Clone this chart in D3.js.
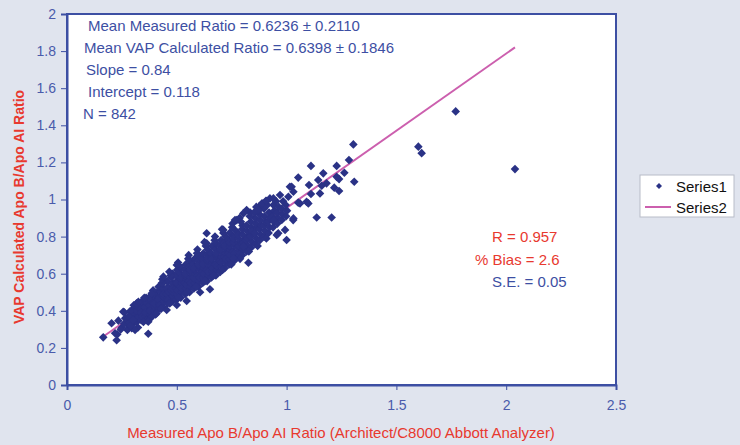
<!DOCTYPE html>
<html>
<head>
<meta charset="utf-8">
<script src="https://cdn.jsdelivr.net/npm/d3@7"></script>
<style>
  body { margin: 0; background: #e0e4ee; }
  text { font-family: Arial, "Liberation Sans", sans-serif; }
</style>
</head>
<body>
<div id="viz"></div>
<script>
// data: [measured, VAP calculated]
var tailPts = [
  [0.165,0.257],[0.226,0.241],[0.229,0.273],[0.203,0.333],[0.219,0.279],[0.234,0.347],
  [0.256,0.395],[0.261,0.392],[0.287,0.397],[0.275,0.297],[0.295,0.306],[0.31,0.297],
  [0.37,0.276],[0.272,0.33],[0.25,0.31],[0.26,0.33],[0.28,0.34],[0.29,0.32],
  [0.265,0.36],[0.28,0.37],[0.30,0.35],[0.245,0.30]
];

var edgePts = [
  [0.545,0.453],[0.651,0.516],[0.606,0.5],[0.826,0.659],[0.765,0.674],[0.5,0.431],
  [0.454,0.404],[0.408,0.386],[0.37,0.341],[0.325,0.449],[0.386,0.494],[0.439,0.584],
  [0.5,0.647],[0.636,0.764],[0.636,0.818],[0.773,0.889],[0.818,0.943],[0.712,0.836],
  [0.765,0.889],[0.803,0.925],[0.871,0.943],[0.906,0.993],[0.924,1.006],[0.97,1.024],
  [1.015,1.069],[0.962,0.818],[0.94,0.889],[0.803,0.746],[0.757,0.683],[0.909,0.992],
  [0.993,0.836],[1.0,0.782],[0.955,0.809],[1.03,0.889],[1.061,0.979],[1.091,0.988]
];

var upperPts = [
  [1.304,1.297],[1.284,1.213],[1.228,1.181],[1.111,1.181],[1.053,1.118],[1.167,1.141],
  [1.263,1.144],[1.228,1.122],[1.239,1.11],[1.308,1.096],[1.144,1.105],[1.182,1.087],
  [1.102,1.078],[1.16,1.074],[1.217,1.064],[1.239,1.046],[1.111,1.03],[1.152,1.033],
  [1.023,1.069],[1.031,1.042],[1.053,0.983],[1.099,0.979],[1.008,1.015],[0.94,1.006],
  [1.137,0.903],[1.205,0.903],[1.031,0.898]
];

var farPts = [[1.77,1.475],[1.60,1.285],[1.615,1.25],[2.04,1.164]];

var clusterPts = [
  [0.302,0.33],[0.298,0.36],[0.305,0.38],[0.300,0.41],[0.296,0.35],[0.304,0.43],
  [0.318,0.34],[0.322,0.37],[0.316,0.40],[0.324,0.42],[0.320,0.36],[0.317,0.44],[0.323,0.31],
  [0.338,0.35],[0.342,0.38],[0.336,0.41],[0.344,0.43],[0.340,0.45],[0.337,0.39],[0.343,0.37],
  [0.358,0.37],[0.362,0.40],[0.356,0.42],[0.364,0.44],[0.360,0.47],[0.357,0.39],[0.363,0.35],
  [0.378,0.38],[0.382,0.41],[0.376,0.43],[0.384,0.45],[0.380,0.48],[0.377,0.40],[0.383,0.46],[0.379,0.36],
  [0.398,0.40],[0.402,0.42],[0.396,0.45],[0.404,0.47],[0.400,0.50],[0.397,0.44],[0.403,0.38],[0.399,0.49],
  [0.418,0.41],[0.422,0.44],[0.416,0.46],[0.424,0.48],[0.420,0.51],[0.417,0.53],[0.423,0.43],[0.419,0.47],
  [0.438,0.42],[0.442,0.45],[0.436,0.48],[0.444,0.50],[0.440,0.52],[0.437,0.55],[0.443,0.47],[0.439,0.49],
  [0.458,0.44],[0.462,0.47],[0.456,0.49],[0.464,0.51],[0.460,0.53],[0.457,0.56],[0.463,0.50],[0.459,0.46],
  [0.478,0.45],[0.482,0.48],[0.476,0.51],[0.484,0.53],[0.480,0.55],[0.477,0.58],[0.483,0.50],[0.479,0.52],[0.481,0.60],
  [0.498,0.46],[0.502,0.49],[0.496,0.52],[0.504,0.54],[0.500,0.56],[0.497,0.59],[0.503,0.51],[0.499,0.55],[0.501,0.62],
  [0.518,0.47],[0.522,0.50],[0.516,0.53],[0.524,0.55],[0.520,0.57],[0.517,0.60],[0.523,0.52],[0.519,0.58],[0.521,0.63],
  [0.538,0.49],[0.542,0.52],[0.536,0.55],[0.544,0.57],[0.540,0.59],[0.537,0.62],[0.543,0.54],[0.539,0.60],[0.541,0.65],
  [0.558,0.50],[0.562,0.53],[0.556,0.56],[0.564,0.58],[0.560,0.61],[0.557,0.64],[0.563,0.55],[0.559,0.62],[0.561,0.67],
  [0.578,0.52],[0.582,0.55],[0.576,0.58],[0.584,0.60],[0.580,0.62],[0.577,0.65],[0.583,0.57],[0.579,0.63],[0.581,0.68],
  [0.598,0.53],[0.602,0.56],[0.596,0.59],[0.604,0.62],[0.600,0.64],[0.597,0.67],[0.603,0.58],[0.599,0.65],[0.601,0.70],
  [0.618,0.55],[0.622,0.58],[0.616,0.61],[0.624,0.63],[0.620,0.66],[0.617,0.68],[0.623,0.60],[0.619,0.65],[0.621,0.71],
  [0.638,0.56],[0.642,0.59],[0.636,0.62],[0.644,0.65],[0.640,0.67],[0.637,0.70],[0.643,0.61],[0.639,0.68],[0.641,0.73],
  [0.658,0.58],[0.662,0.61],[0.656,0.64],[0.664,0.66],[0.660,0.69],[0.657,0.71],[0.663,0.63],[0.659,0.68],[0.661,0.75],
  [0.678,0.59],[0.682,0.62],[0.676,0.65],[0.684,0.68],[0.680,0.70],[0.677,0.73],[0.683,0.64],[0.679,0.71],[0.681,0.76],
  [0.698,0.61],[0.702,0.64],[0.696,0.67],[0.704,0.69],[0.700,0.72],[0.697,0.75],[0.703,0.66],[0.699,0.73],[0.701,0.78],
  [0.718,0.63],[0.722,0.66],[0.716,0.69],[0.724,0.71],[0.720,0.74],[0.717,0.77],[0.723,0.68],[0.719,0.75],[0.721,0.80],
  [0.738,0.65],[0.742,0.68],[0.736,0.71],[0.744,0.73],[0.740,0.75],[0.737,0.78],[0.743,0.70],[0.739,0.77],[0.741,0.82],
  [0.758,0.67],[0.762,0.70],[0.756,0.72],[0.764,0.75],[0.760,0.77],[0.757,0.80],[0.763,0.71],[0.759,0.79],[0.761,0.84],
  [0.778,0.69],[0.782,0.72],[0.776,0.74],[0.784,0.77],[0.780,0.79],[0.777,0.82],[0.783,0.75],[0.779,0.81],
  [0.798,0.70],[0.802,0.73],[0.796,0.76],[0.804,0.78],[0.800,0.81],[0.797,0.84],[0.803,0.77],[0.799,0.86],
  [0.818,0.72],[0.822,0.75],[0.816,0.78],[0.824,0.80],[0.820,0.83],[0.817,0.86],[0.823,0.79],
  [0.838,0.74],[0.842,0.77],[0.836,0.80],[0.844,0.82],[0.840,0.85],[0.837,0.88],[0.843,0.83],
  [0.858,0.76],[0.862,0.79],[0.856,0.82],[0.864,0.85],[0.860,0.87],[0.857,0.90],
  [0.878,0.78],[0.882,0.81],[0.876,0.84],[0.884,0.86],[0.880,0.89],[0.877,0.92],
  [0.898,0.80],[0.902,0.83],[0.896,0.86],[0.904,0.88],[0.900,0.91],[0.897,0.95],
  [0.918,0.82],[0.922,0.85],[0.916,0.88],[0.924,0.90],[0.920,0.93],
  [0.938,0.85],[0.942,0.88],[0.936,0.91],[0.944,0.94],[0.940,0.97],
  [0.958,0.87],[0.962,0.90],[0.956,0.93],[0.964,0.96],
  [0.978,0.89],[0.982,0.92],[0.976,0.95],[0.984,0.99],
  [0.998,0.91],[1.002,0.94],[0.996,0.97]
];

// wider scatter on both sides of the band
var spreadPts = [
  [0.352,0.47],[0.348,0.34],[0.392,0.51],[0.388,0.37],
  [0.432,0.55],[0.428,0.41],[0.434,0.57],[0.472,0.59],[0.468,0.44],[0.466,0.61],
  [0.512,0.64],[0.508,0.47],[0.506,0.66],[0.552,0.68],[0.548,0.50],[0.554,0.70],
  [0.592,0.71],[0.588,0.53],[0.594,0.73],[0.632,0.75],[0.628,0.56],[0.626,0.77],
  [0.672,0.78],[0.668,0.59],[0.674,0.80],[0.712,0.82],[0.708,0.62],[0.706,0.84],
  [0.752,0.85],[0.748,0.65],[0.754,0.87],[0.792,0.88],[0.788,0.68],[0.786,0.90],
  [0.832,0.91],[0.828,0.72],[0.834,0.93],[0.872,0.94],[0.868,0.75],[0.874,0.96],
  [0.912,0.97],[0.908,0.79],[0.862,0.96],[0.888,0.98],[0.852,0.93],[0.952,0.99]
];

// regression line (Series2) end points
var fitLine = [[0.164,0.26],[2.04,1.82]];

var xTicks = [0, 0.5, 1, 1.5, 2, 2.5];
var yTicks = [0, 0.2, 0.4, 0.6, 0.8, 1, 1.2, 1.4, 1.6, 1.8, 2];

var statsLeft = [
  'Mean Measured Ratio = 0.6236 \u00b1 0.2110',
  'Mean VAP Calculated Ratio = 0.6398 \u00b1 0.1846',
  'Slope = 0.84',
  'Intercept = 0.118',
  'N = 842'
];
var statsLeftX = [88, 84, 86, 88, 83];

var width = 740;
var height = 445;
var plot = { left: 67, right: 616, top: 14, bottom: 385 };

var blue = '#3d4fa3';
var red = '#e8392f';
var navy = '#2a3286';

var svg = d3.select('#viz')
    .append('svg')
    .attr('width', width)
    .attr('height', height);

svg.append('rect')
    .attr('width', width).attr('height', height)
    .attr('fill', '#e0e4ee');

var xScale = d3.scaleLinear().domain([0, 2.5]).range([plot.left, plot.right]);
var yScale = d3.scaleLinear().domain([0, 2]).range([plot.bottom, plot.top]);

svg.append('rect')
    .attr('x', plot.left).attr('y', plot.top)
    .attr('width', plot.right - plot.left)
    .attr('height', plot.bottom - plot.top)
    .attr('fill', '#fff')
    .attr('stroke', blue)
    .attr('stroke-width', 2);

var xAxis = d3.axisBottom(xScale).tickValues(xTicks).tickSize(5).tickPadding(10)
    .tickFormat(d3.format('~g'));
var yAxis = d3.axisLeft(yScale).tickValues(yTicks).tickSize(6).tickPadding(5)
    .tickFormat(d3.format('~g'));

var gx = svg.append('g')
    .attr('transform', 'translate(0,' + plot.bottom + ')')
    .call(xAxis);
var gy = svg.append('g')
    .attr('transform', 'translate(' + plot.left + ',0)')
    .call(yAxis);

[gx, gy].forEach(function(g) {
    g.select('.domain').attr('stroke', blue).attr('stroke-width', 2);
    g.selectAll('.tick line').attr('stroke', blue);
    g.selectAll('.tick text')
        .attr('fill', '#4a5bab')
        .style('font-size', '14px');
});

// fit line goes under the points, as in the original
svg.append('path')
    .datum(fitLine)
    .attr('d', d3.line()
        .x(function(d) { return xScale(d[0]); })
        .y(function(d) { return yScale(d[1]); }))
    .attr('fill', 'none')
    .attr('stroke', '#cc5fae')
    .attr('stroke-width', 2);

var diamond = 'M0,-4.3L4.3,0L0,4.3L-4.3,0Z';
var allPts = clusterPts.concat(spreadPts, tailPts, edgePts, upperPts, farPts);

svg.append('g')
    .selectAll('path')
    .data(allPts)
    .enter()
    .append('path')
    .attr('d', diamond)
    .attr('transform', function(d) {
        return 'translate(' + xScale(d[0]) + ',' + yScale(d[1]) + ')';
    })
    .attr('fill', navy);

// stats text
svg.append('g')
    .selectAll('text')
    .data(statsLeft)
    .enter()
    .append('text')
    .attr('x', function(d, i) { return statsLeftX[i]; })
    .attr('y', function(d, i) { return 25 + i * 22.2; })
    .attr('dominant-baseline', 'central')
    .attr('fill', blue)
    .style('font-size', '15px')
    .text(function(d) { return d; });

svg.append('text').attr('x', 492).attr('y', 236)
    .attr('dominant-baseline', 'central')
    .attr('fill', red).style('font-size', '15px').text('R = 0.957');
svg.append('text').attr('x', 475).attr('y', 259)
    .attr('dominant-baseline', 'central')
    .attr('fill', red).style('font-size', '15px').text('% Bias = 2.6');
svg.append('text').attr('x', 492).attr('y', 281)
    .attr('dominant-baseline', 'central')
    .attr('fill', blue).style('font-size', '15px').text('S.E. = 0.05');

// axis titles
svg.append('text')
    .attr('x', 341)
    .attr('y', 432)
    .attr('text-anchor', 'middle')
    .attr('dominant-baseline', 'central')
    .attr('fill', red)
    .style('font-size', '15px')
    .text('Measured Apo B/Apo AI Ratio (Architect/C8000 Abbott Analyzer)');

svg.append('text')
    .attr('transform', 'translate(19,207) rotate(-90)')
    .attr('text-anchor', 'middle')
    .attr('dominant-baseline', 'central')
    .attr('fill', red)
    .style('font-size', '14px')
    .style('font-weight', 'bold')
    .text('VAP Calculated Apo B/Apo AI Ratio');

// legend
var legend = svg.append('g').attr('transform', 'translate(640,175)');
legend.append('rect')
    .attr('width', 94).attr('height', 42)
    .attr('fill', '#fff')
    .attr('stroke', '#b8bcc8');
legend.append('path')
    .attr('d', 'M0,-3L3,0L0,3L-3,0Z')
    .attr('transform', 'translate(19,11)')
    .attr('fill', navy);
legend.append('line')
    .attr('x1', 5).attr('x2', 31).attr('y1', 32).attr('y2', 32)
    .attr('stroke', '#cc5fae').attr('stroke-width', 2);
legend.append('text').attr('x', 36).attr('y', 11)
    .attr('dominant-baseline', 'central')
    .style('font-size', '15px').attr('fill', '#111').text('Series1');
legend.append('text').attr('x', 36).attr('y', 32)
    .attr('dominant-baseline', 'central')
    .style('font-size', '15px').attr('fill', '#111').text('Series2');
</script>
</body>
</html>
